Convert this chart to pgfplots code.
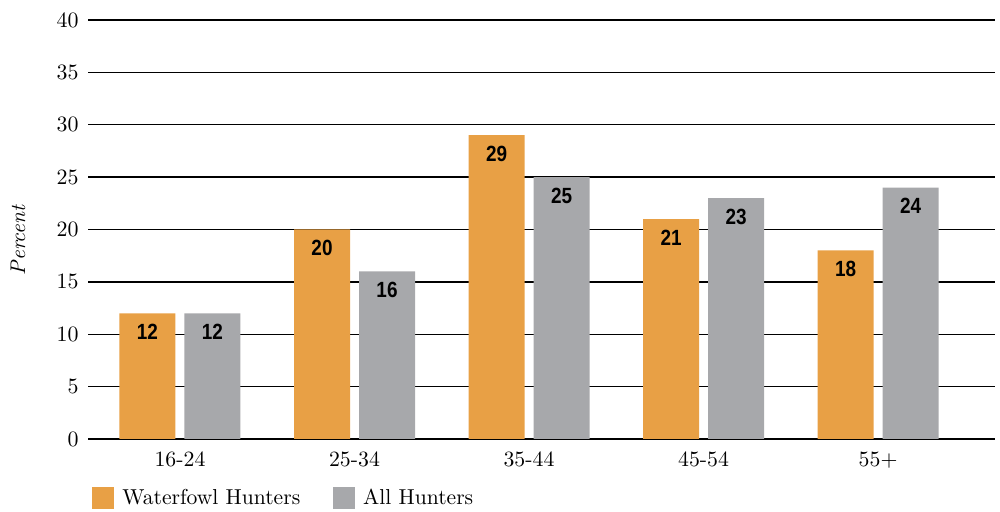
\documentclass[border=0pt]{standalone}
\usepackage{fontspec}
\usepackage{pgfplots}
\pgfplotsset{compat=1.18}
\newfontfamily\barfont[FakeStretch=0.86]{Liberation Sans}
\definecolor{wfowl}{HTML}{E8A045}
\definecolor{allh}{HTML}{A7A8AB}
\begin{document}
\begin{tikzpicture}[x=1pt,y=1pt]
\useasboundingbox (0,0) rectangle (500,-256);
\begin{axis}[
  at={(44pt,-219.5pt)}, anchor=south west,
  scale only axis, width=453.5pt, height=209.5pt,
  ybar=4.5pt, bar width=28pt,
  xmin=-0.527, xmax=4.67, ymin=0, ymax=40,
  ytick={0,5,...,40},
  xtick={0,1,2,3,4},
  xticklabels={16-24,25-34,35-44,45-54,55+},
  major tick length=0pt,
  ymajorgrids, grid style={black, line width=0.65pt},
  axis x line*=bottom, axis y line*=left,
  x axis line style={black, line width=0.8pt, -},
  y axis line style={draw=none},
  tick label style={font=\fontsize{10.9}{12}\selectfont},
  yticklabel style={inner sep=0pt, anchor=east, xshift=-4.5pt},
  xticklabel style={inner sep=0pt, anchor=north, yshift=-6.3pt},
  ylabel={\textit{Percent}},
  ylabel style={at={(axis description cs:-0.0772,0.475)}, anchor=center, font=\fontsize{10.6}{12}\selectfont},
  nodes near coords={\pgfmathprintnumber[assume math mode=true]{\pgfplotspointmeta}},
  every node near coord/.append style={anchor=north, inner sep=0pt, yshift=-5.3pt,
    font=\barfont\bfseries\fontsize{11}{12}\selectfont, text=black},
  legend columns=2,
  legend style={at={(axis description cs:0.0044,-0.141)}, anchor=west, draw=none, fill=none,
    inner sep=0pt, font=\fontsize{10.8}{12}\selectfont,
    /tikz/every even column/.append style={column sep=16.5pt},
    nodes={inner sep=0pt, anchor=west}},
  legend image code/.code={\fill[#1] (0pt,-5.5pt) rectangle (11pt,5.5pt);},
  legend cell align=left,
]
\addplot[fill=wfowl, draw=none] coordinates {(0,12) (1,20) (2,29) (3,21) (4,18)};
\addplot[fill=allh, draw=none] coordinates {(0,12) (1,16) (2,25) (3,23) (4,24)};
\legend{\hspace{4pt}Waterfowl Hunters,\hspace{4pt}All Hunters}
\end{axis}
\end{tikzpicture}
\end{document}
